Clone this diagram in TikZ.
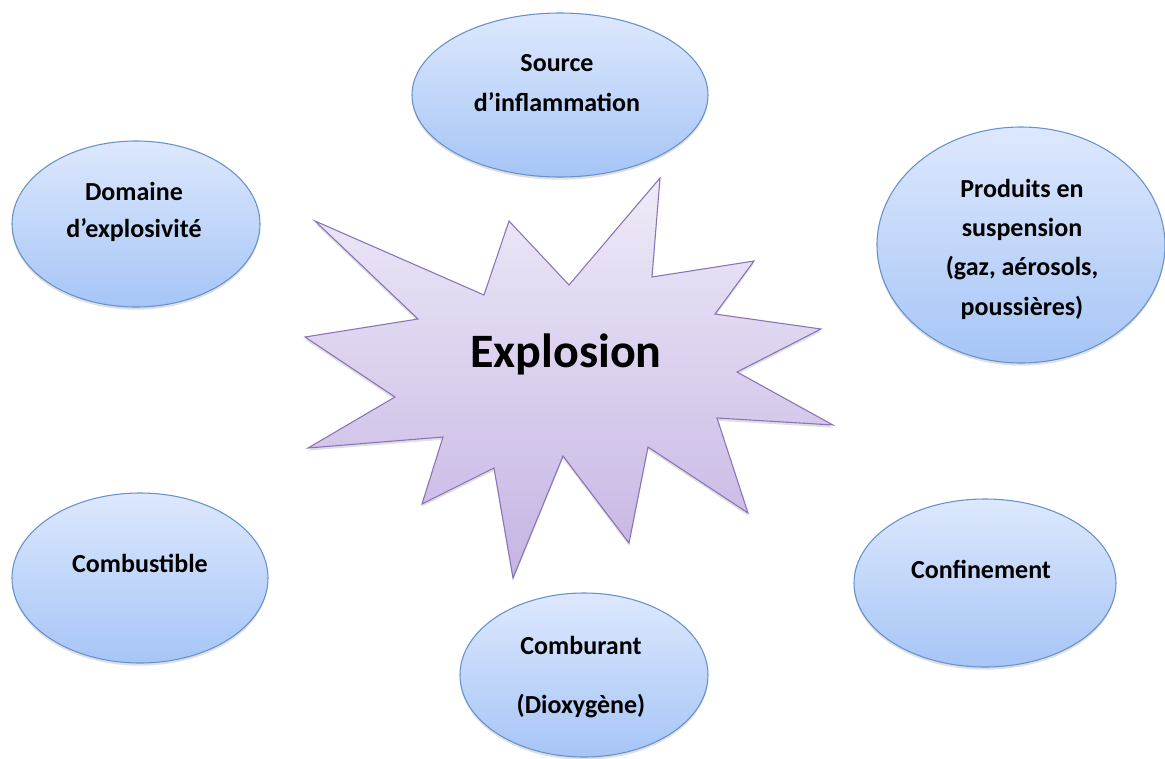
\documentclass[tikz,border=0pt]{standalone}
\usepackage{fontspec}
\setmainfont{Carlito}
\usepackage{tikz}
\usetikzlibrary{shapes,shadows,calc}
\definecolor{bulletop}{HTML}{DDE8FD}
\definecolor{bullebas}{HTML}{A6C5F6}
\definecolor{bullebord}{HTML}{6592CC}
\definecolor{etoiletop}{HTML}{EFEAF8}
\definecolor{etoilebas}{HTML}{C5B4E3}
\definecolor{etoilebord}{HTML}{8A72B6}

\begin{document}
\begin{tikzpicture}[x=0.75pt,y=-0.75pt,
  bulle/.style={ellipse,draw=bullebord,line width=0.8pt,top color=bulletop,bottom color=bullebas,
    inner sep=0pt,drop shadow={shadow xshift=0pt,shadow yshift=-2pt,opacity=0.25,fill=gray}},
  etoile/.style={draw=etoilebord,line width=0.8pt,top color=etoiletop,bottom color=etoilebas,
    drop shadow={shadow xshift=0pt,shadow yshift=-2pt,opacity=0.25,fill=gray}},
  texte/.style={font=\bfseries\fontsize{19.5}{29.5}\selectfont,align=center,inner sep=0pt}]
\useasboundingbox (0,0) rectangle (1165,758);
% les bulles
 \node[bulle,minimum width=222pt,minimum height=123pt] (source) at (560,95) {};
 \node[bulle,minimum width=186pt,minimum height=124.5pt] (domaine) at (136,224) {};
 \node[bulle,minimum width=216pt,minimum height=177pt] (produits) at (1021,245) {};
 \node[bulle,minimum width=192pt,minimum height=127.5pt] (combustible) at (140,578) {};
 \node[bulle,minimum width=196.5pt,minimum height=126pt] (confinement) at (985,583) {};
 \node[bulle,minimum width=186pt,minimum height=123pt] (comburant) at (584,675) {};
% l'etoile
 \draw[etoile] (315,221) -- (484,295) -- (509,221) -- (569,285) -- (660,178) -- (652,277)
   -- (754,261) -- (715,314) -- (821,329) -- (737,372) -- (833,425) -- (717,418)
   -- (748,513) -- (648,447) -- (629,543) -- (563,456) -- (513,578) -- (494,468)
   -- (422,504) -- (443,437) -- (308,448) -- (395,397) -- (305,337) -- (418,319) -- cycle;
% les textes
 \node[texte] (sourcetxt) at (557,83) {Source\\d’inflammation};
 \node[texte,font=\bfseries\fontsize{19.5}{28}\selectfont] (domainetxt) at (134,212) {Domaine\\d’explosivité};
 \node[texte] (produitstxt) at (1022,249) {Produits en\\suspension\\(gaz, aérosols,\\poussières)};
 \node[texte] (combustibletxt) at (140,563) {Combustible};
 \node[texte] (confinementtxt) at (981,569) {Confinement};
 \node[texte] (comburanttxt) at (581,677) {Comburant\\[15pt](Dioxygène)};
 \node[texte,font=\bfseries\fontsize{36}{40}\selectfont,anchor=base] (explosion) at (566,367) {Explosion};
\end{tikzpicture}
\end{document}
